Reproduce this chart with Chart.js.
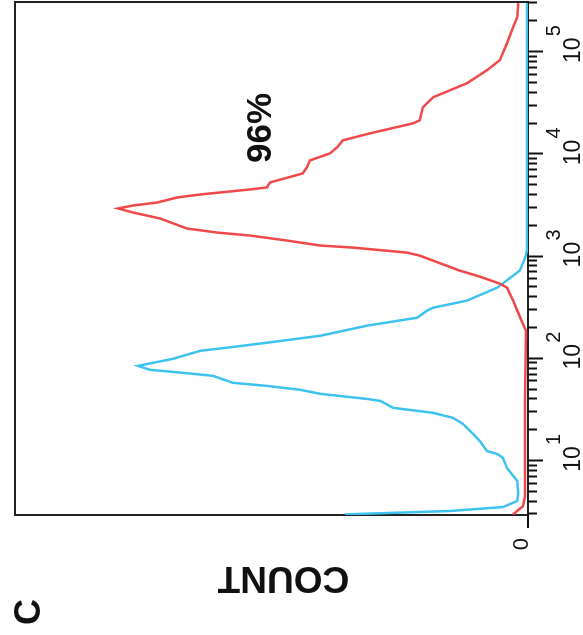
<!DOCTYPE html>
<html>
<head>
<meta charset="utf-8">
<script src="https://cdn.jsdelivr.net/npm/chart.js@4/dist/chart.umd.min.js"></script>
<style>
  html, body { margin: 0; padding: 0; background: #fff; }
  body { width: 583px; height: 635px; overflow: hidden; position: relative; }
  /* the figure is printed turned a quarter turn to the left */
  #wrap { position: absolute; left: -26px; top: 26px; width: 635px; height: 583px; transform: rotate(-90deg); }
</style>
</head>
<body>
<div id="wrap"><canvas id="hist" width="635" height="583"></canvas></div>
<script>
// fluorescence (log axis) and count
var redFluor = [3, 3.6, 4.5, 12.5, 39, 188, 220, 296, 371, 497, 544, 637, 729, 1023, 1094, 1225, 1283, 1436, 1608, 1719,
  1884, 2360, 2700, 2960, 3162, 3382, 3787, 4053, 4538, 4747, 5314, 6516, 7461, 8737, 10230, 11720, 13720, 16070, 20140, 21540,
  28880, 36220, 49690, 66660, 83490, 122500, 175800, 220300, 302000];
var redCount = [2.9, 1.0, 0.6, 0.6, 0.6, 0.4, 1.0, 2.1, 2.9, 4.1, 5.5, 9.4, 13.3, 21.1, 23.6, 34.1, 40.5, 47.0, 54.2, 60.6,
  66.5, 71.7, 77.0, 79.9, 77.0, 72.3, 68.4, 63.9, 54.2, 50.9, 50.3, 43.9, 43.1, 42.5, 38.6, 37.2, 36.1, 30.8, 22.4, 21.1,
  20.5, 18.5, 11.9, 8.0, 5.5, 4.1, 2.9, 2.1, 1.9];

var blueFluor = [3, 3.24, 3.54, 4.06, 4.74, 6.37, 8.53, 10.7, 11.7, 12.5, 15.7, 18.4, 23.1, 26.4, 29.6, 33.1, 38.7, 40.5, 45.4, 49.7,
  54.3, 58.2, 68.1, 72.9, 78.0, 85.3, 100, 119.7, 128.3, 143.6, 168, 210.8, 252.4, 295.6, 316.2, 370.6, 496.6, 729.5, 955, 1145,
  302000];
var blueCount = [35.7, 15.2, 4.9, 2.1, 1.9, 2.1, 4.1, 4.9, 6.0, 8.0, 9.4, 10.7, 12.7, 14.6, 18.5, 26.3, 28.8, 31.4, 40.5, 44.4,
  50.9, 57.5, 61.4, 67.3, 73.7, 76.0, 69.2, 63.9, 58.7, 50.9, 40.5, 31.4, 21.6, 19.7, 18.5, 11.9, 6.0, 1.6, 0.6, 0.2,
  0.2];

var decadeExps = [1, 2, 3, 4, 5];
var countTicks = [0];
var fluorMin = 2.96, fluorMax = 310000;
var countMax = 100;
var percentText = "96%";
var countTitle = "COUNT";
var panelLabel = "C";

function pairs(xs, ys) {
  return xs.map(function (v, i) { return { x: v, y: ys[i] }; });
}

var FONT = "'Liberation Sans', Arial, sans-serif";

// ticks, labels, frame and texts
var decor = {
  id: "decor",
  beforeDatasetsDraw: function (chart) {
    var ctx = chart.ctx, a = chart.chartArea;
    ctx.save();
    ctx.strokeStyle = "#222";
    ctx.lineWidth = 2;
    ctx.strokeRect(a.left, a.top, a.right - a.left, a.bottom - a.top);
    ctx.restore();
  },
  afterDraw: function (chart) {
    var ctx = chart.ctx, a = chart.chartArea;
    var xs = chart.scales.x, ys = chart.scales.y;
    ctx.save();
    ctx.strokeStyle = "#111";
    ctx.lineWidth = 2;
    // log ticks, majors longer
    for (var d = 0; d <= 5; d++) {
      for (var m = 1; m <= 9; m++) {
        var v = m * Math.pow(10, d);
        if (v < fluorMin || v > fluorMax) continue;
        var px = Math.round(xs.getPixelForValue(v)) + 0.5;
        var len = m === 1 ? 15 : 9;
        ctx.beginPath();
        ctx.moveTo(px, a.bottom);
        ctx.lineTo(px, a.bottom + len);
        ctx.stroke();
      }
    }
    // decade labels 10^n
    ctx.fillStyle = "#111";
    decadeExps.forEach(function (e) {
      var px = xs.getPixelForValue(Math.pow(10, e));
      ctx.font = "23px " + FONT;
      ctx.textAlign = "center";
      ctx.textBaseline = "alphabetic";
      ctx.fillText("10", px + 2, a.bottom + 52);
      ctx.font = "20px " + FONT;
      ctx.textAlign = "left";
      ctx.fillText(String(e), px + 16, a.bottom + 32);
    });
    // count axis tick and label
    countTicks.forEach(function (c) {
      var py = ys.getPixelForValue(c);
      ctx.beginPath();
      ctx.moveTo(a.left - 13, py);
      ctx.lineTo(a.left, py);
      ctx.stroke();
      ctx.font = "22px " + FONT;
      ctx.textAlign = "right";
      ctx.textBaseline = "alphabetic";
      ctx.fillText(String(c), a.left - 23, py);
    });
    // axis title
    ctx.font = "bold 37px " + FONT;
    ctx.save();
    ctx.translate(58, (a.top + a.bottom) / 2 + 12);
    ctx.rotate(-Math.PI / 2);
    ctx.textAlign = "center";
    ctx.textBaseline = "middle";
    ctx.fillText(countTitle, 0, 0);
    ctx.restore();
    // percent gate label
    ctx.font = "bold 35px " + FONT;
    ctx.textAlign = "center";
    ctx.textBaseline = "middle";
    ctx.fillText(percentText, 507, 261);
    // panel letter
    ctx.font = "bold 36px " + FONT;
    ctx.fillText(panelLabel, 23, 30);
    ctx.restore();
  }
};

var hist = new Chart(document.getElementById("hist").getContext("2d"), {
  type: "line",
  data: {
    datasets: [
      {
        label: "stained",
        data: pairs(redFluor, redCount),
        borderColor: "#f0484b",
        borderWidth: 2.5,
        pointRadius: 0,
        tension: 0,
        fill: false
      },
      {
        label: "control",
        data: pairs(blueFluor, blueCount),
        borderColor: "#3ec2f0",
        borderWidth: 2.5,
        pointRadius: 0,
        tension: 0,
        fill: false
      }
    ]
  },
  options: {
    responsive: false,
    animation: false,
    layout: { padding: { left: 120, right: 2, top: 15, bottom: 55 } },
    plugins: { legend: { display: false }, tooltip: { enabled: false } },
    scales: {
      x: {
        type: "logarithmic",
        min: fluorMin,
        max: fluorMax,
        grid: { display: false, drawTicks: false },
        border: { display: false },
        ticks: { display: false }
      },
      y: {
        type: "linear",
        min: 0,
        max: countMax,
        grid: { display: false, drawTicks: false },
        border: { display: false },
        ticks: { display: false }
      }
    }
  },
  plugins: [decor]
});
</script>
</body>
</html>
